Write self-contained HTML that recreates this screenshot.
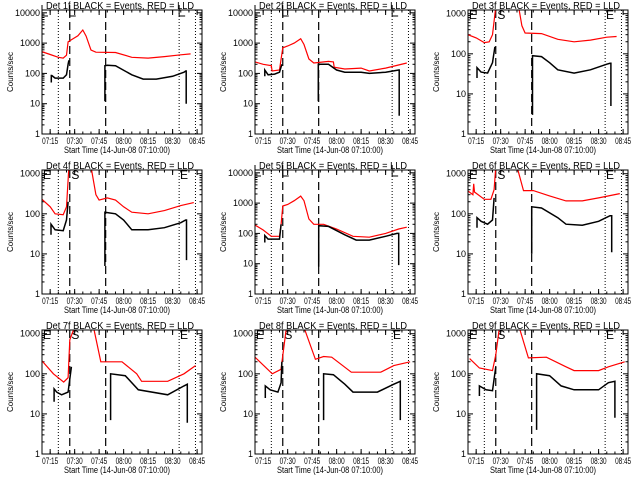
<!DOCTYPE html>
<html><head><meta charset="utf-8"><style>
body{margin:0;background:#fff;}
svg{display:block;font-family:"Liberation Sans",sans-serif;}
</style></head><body>
<svg id="chart" width="640" height="480" viewBox="0 0 640 480"></svg>
<script>
const panelNames = ["1f","2f","3f","4f","5f","6f","7f","8f","9f"];
const panelMaxDecade = [4,4,3,3,4,3,3,3,3];
const redT = [
 [0,5,10,13,15,16,18,22,25,27,30,33,45,55,65,75,85,91],
 [0,5,10,10.5,15,16,17,20,24,28,30,33,36,45,48,48.5,55,65,70,80,93],
 [0,5,10,13,15,17,24,31,33,35,45,55,65,75,85,91],
 [0,5,8,13,15,16.5,24,30,33,35,40,45,50,55,65,75,85,93],
 [0,5,10,15,16,17,20,24,28,30,33,36,42,50,60,70,80,88,93],
 [0,3,3.5,4,10,14,16,17,24,30,34,40,50,60,70,80,93],
 [0,7,13.3,16,17,20,26,31.5,36,49,58,61,77,87,94],
 [0,10.6,15.9,19,25,30.7,37,42,47,59,77,85,95],
 [1,7,15,17,19,25,32,37,48,60,65,80,86,96]
];
const redV = [
 [520,420,340,320,400,1100,1300,1750,2700,1700,590,500,490,340,320,360,410,440],
 [240,200,180,120,130,300,700,800,1000,1400,900,300,220,250,240,160,140,150,120,150,220],
 [300,250,190,200,300,1500,3000,1500,500,330,320,230,200,220,260,270],
 [230,150,100,95,150,1500,3000,1500,300,220,250,220,150,110,100,120,160,190],
 [190,130,80,80,200,800,900,1200,1700,1200,300,200,200,140,80,75,100,140,160],
 [370,300,560,350,230,230,400,1500,3000,1500,380,380,280,210,210,250,320],
 [210,100,62,80,700,1500,3000,1500,200,200,100,65,65,100,160],
 [260,100,130,1200,3000,1200,230,270,260,110,110,160,200],
 [240,140,120,300,1200,3000,1200,250,260,150,120,120,150,200]
];
const blkT = [
 [5.7,5.7,6,8,13,15,16,16.5,null,38.5,38.5,40,45,55,62,70,80,87,88,88.3,88.3],
 [6,6,8,12,15,16.5,null,38.8,38.8,45,50,55,65,70,80,88,88.3,88.3],
 [5.5,5.5,8,12,15,16.5,null,39.5,39.5,45,50,55,65,75,85,87,87.5,87.5],
 [5.5,5.5,8,13,15,16,null,38.5,38.5,45,50,55,65,75,85,88,88.5,88.5],
 [6,6,8,15,16,null,39,39,45,55,62,70,80,87,88,88],
 [5.5,5.5,8,12,15,16,null,39,39,45,55,60,70,80,87,88,88],
 [7.4,7.4,9,12,16,18,null,42,42,51,59,77,87,89,89],
 [6.3,6.3,9.3,14,16,16.5,null,42,42,48,55,60,75,85,89,89],
 [7,7,11,15,17,null,42,42,50,57,65,80,86,90,90]
];
const blkV = [
 [50,85,85,70,70,90,200,270,null,12,180,185,180,90,65,65,80,110,120,120,10],
 [80,130,90,95,110,200,null,12,200,200,130,110,110,100,110,130,130,4],
 [25,45,35,33,60,150,null,3,90,85,60,40,33,40,55,58,58,5],
 [30,55,40,38,70,200,null,5,110,100,70,40,40,45,60,70,70,7],
 [50,85,65,65,200,null,8,180,170,90,60,60,80,100,100,9],
 [45,80,65,55,70,250,null,10,150,140,80,55,52,65,90,90,11],
 [20,42,35,30,35,150,null,7,100,90,40,30,50,55,6],
 [25,50,40,35,60,200,null,7,100,95,55,35,35,55,65,7],
 [28,50,40,38,150,null,4,100,90,50,40,40,60,65,8]
];
const xTickMin = [5,20,35,50,65,80,95];
const xTickLabels = ["07:15","07:30","07:45","08:00","08:15","08:30","08:45"];
const dottedMarks = [10,84,94];
const dashedMarks = [17,39];

const NS="http://www.w3.org/2000/svg";
const svg=document.getElementById('chart');
function mk(tag,attrs,parent){const e=document.createElementNS(NS,tag);for(const k in attrs)e.setAttribute(k,attrs[k]);(parent||svg).appendChild(e);return e;}
const L=42,R=202,T=10,B=134,PXMIN=160/98;
panelNames.forEach((nm,i)=>{
  const ox=(i%3)*213, oy=Math.floor(i/3)*160;
  const g=mk('g',{transform:`translate(${ox},${oy})`});
  
  
  const top=panelMaxDecade[i]+0.093;
  const X=t=>L+t*PXMIN;
  const Y=v=>B-(Math.log10(v)/top)*(B-T);
  const cid='clip'+i;
  const cp=mk('clipPath',{id:cid},g);mk('rect',{x:L,y:T,width:R-L,height:B-T},cp);
  const tt=mk('text',{x:46,y:9,'font-size':'10',textLength:148,lengthAdjust:'spacingAndGlyphs'},g);
  tt.textContent=`Det ${nm} BLACK = Events, RED = LLD`;
  
  
  for(let d=0;d<=panelMaxDecade[i];d++){
    const y=Y(Math.pow(10,d));
    mk('line',{x1:L,x2:L+5,y1:y,y2:y,stroke:'#000'},g);
    mk('line',{x1:R-5,x2:R,y1:y,y2:y,stroke:'#000'},g);
    for(let m=2;m<10;m++){const v=m*Math.pow(10,d);if(Math.log10(v)>top)break;const ym=Y(v);
      mk('line',{x1:L,x2:L+2.5,y1:ym,y2:ym,stroke:'#000'},g);mk('line',{x1:R-2.5,x2:R,y1:ym,y2:ym,stroke:'#000'},g);}
    const s=String(Math.pow(10,d));
    const lb=mk('text',{x:L-2-s.length*5,y:y+3,'font-size':'9',textLength:s.length*5,lengthAdjust:'spacingAndGlyphs'},g);
    lb.textContent=s;
    
    
  }
  xTickMin.forEach((t,k)=>{const x=X(t);
    mk('line',{x1:x,x2:x,y1:B,y2:B-5,stroke:'#000'},g);mk('line',{x1:x,x2:x,y1:T,y2:T+5,stroke:'#000'},g);
    const lb=mk('text',{x:x-8,y:B+10,'font-size':'9',textLength:16,lengthAdjust:'spacingAndGlyphs'},g);
    lb.textContent=xTickLabels[k];
    
    
  });
  for(let t=0;t<98;t+=5){const x=X(t);mk('line',{x1:x,x2:x,y1:B,y2:B-2.5,stroke:'#000'},g);mk('line',{x1:x,x2:x,y1:T,y2:T+2.5,stroke:'#000'},g);}
  const xt=mk('text',{x:64,y:B+19,'font-size':'9.5',textLength:106,lengthAdjust:'spacingAndGlyphs'},g);
  xt.textContent='Start Time (14-Jun-08 07:10:00)';
  
  
  const yt=mk('text',{x:0,y:0,'text-anchor':'middle','font-size':'8',transform:`translate(13,72) rotate(-90)`},g);
  yt.textContent='Counts/sec';
  
  
  dottedMarks.forEach(t=>mk('line',{x1:X(t),x2:X(t),y1:T,y2:B,stroke:'#000','stroke-dasharray':'1,2'},g));
  dashedMarks.forEach(t=>mk('line',{x1:X(t),x2:X(t),y1:T,y2:B,stroke:'#000','stroke-width':1.2,'stroke-dasharray':'8,4'},g));
  if(panelMaxDecade[i]===3){
    [[0.5,'E'],[18,'S'],[84.5,'E']].forEach(([t,s])=>{const e=mk('text',{x:X(t),y:T+9,'font-size':'12'},g);e.textContent=s;
      
      });
  } else {
    [0,17,84].forEach(t=>{const x=X(t);mk('path',{d:`M${x},5 V16 H${x+6}`,fill:'none',stroke:'#000'},g);});
  }
  function path(ts,vs){let d='',pen=false;ts.forEach((t,k)=>{if(t===null){pen=false;return;}d+=(pen?'L':'M')+X(t).toFixed(1)+','+Y(vs[k]).toFixed(1);pen=true;});return d;}
  const rp=mk('path',{d:path(redT[i],redV[i]),fill:'none',stroke:'#ff0000','stroke-width':1.2,'clip-path':`url(#${cid})`},g);
  
  
  const bp=mk('path',{d:path(blkT[i],blkV[i]),fill:'none',stroke:'#000','stroke-width':1.5,'clip-path':`url(#${cid})`},g);
  
  
  mk('rect',{x:L,y:T,width:R-L,height:B-T,fill:'none',stroke:'#000'},g);
});
</script>
</body></html>
